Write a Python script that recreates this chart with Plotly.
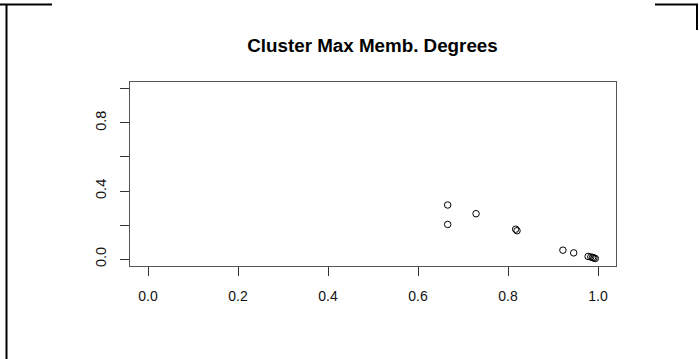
import plotly.graph_objects as go

# Data
max_memb_x = [0.666, 0.666, 0.729, 0.817, 0.820, 0.922, 0.946, 0.978, 0.984, 0.988, 0.991, 0.994]
max_memb_y = [0.318, 0.204, 0.267, 0.176, 0.167, 0.053, 0.037, 0.016, 0.013, 0.010, 0.007, 0.004]
x_ticks = [0.0, 0.2, 0.4, 0.6, 0.8, 1.0]
x_labels = ["0.0", "0.2", "0.4", "0.6", "0.8", "1.0"]
y_ticks = [0.0, 0.2, 0.4, 0.6, 0.8, 1.0]
y_labels = ["0.0", "", "0.4", "", "0.8", ""]
title_text = "Cluster Max Memb. Degrees"

W, H = 699, 359
L, R, T, B = 130, 616, 82, 266

def px_x(p):
    return (p - L) / (R - L)

def px_y(p):
    return (B - p) / (B - T)

fig = go.Figure()
fig.add_trace(go.Scatter(
    x=max_memb_x, y=max_memb_y, mode="markers",
    marker=dict(symbol="circle-open", size=6.5, color="black", line=dict(width=1, color="black")),
    showlegend=False, hoverinfo="skip",
))

font_family = "Liberation Sans, Arial, sans-serif"

fig.update_layout(
    width=W, height=H,
    margin=dict(l=L, r=W - R, t=T, b=H - B, pad=0),
    paper_bgcolor="white", plot_bgcolor="white",
    font=dict(family=font_family, size=14, color="#111"),
    title=dict(text="<b>" + title_text + "</b>", x=372.5 / W, xanchor="center",
               y=1 - 45 / H, yanchor="middle", yref="container",
               font=dict(family=font_family, size=18.8, color="black")),
    xaxis=dict(range=[-0.04, 1.04], tickvals=x_ticks, ticktext=x_labels,
               showgrid=False, zeroline=False, showline=True, mirror=True,
               linecolor="#555", linewidth=1, ticks="outside", ticklen=9,
               tickcolor="#333", tickwidth=1, ticklabelstandoff=8,
               tickfont=dict(family=font_family, size=14, color="#111")),
    yaxis=dict(range=[-0.04, 1.04], tickvals=y_ticks, ticktext=y_labels,
               showgrid=False, zeroline=False, showline=True, mirror=True,
               linecolor="#555", linewidth=1, ticks="outside", ticklen=9,
               tickcolor="#333", tickwidth=1, tickangle=-90, ticklabelstandoff=8,
               tickfont=dict(family=font_family, size=14.5, color="#111")),
)

border = dict(type="line", xref="paper", yref="paper", line=dict(color="black", width=2))
fig.add_shape(**border, x0=px_x(0), x1=px_x(52), y0=px_y(4.5), y1=px_y(4.5))
fig.add_shape(**border, x0=px_x(6.5), x1=px_x(6.5), y0=px_y(4), y1=px_y(360))
fig.add_shape(**border, x0=px_x(655), x1=px_x(698), y0=px_y(4.5), y1=px_y(4.5))
fig.add_shape(**border, x0=px_x(697), x1=px_x(697), y0=px_y(4), y1=px_y(30))

fig.write_html(
    "out.html",
    config={"displayModeBar": False},
    post_script="document.body.style.margin='0';document.body.style.overflow='hidden';",
)
